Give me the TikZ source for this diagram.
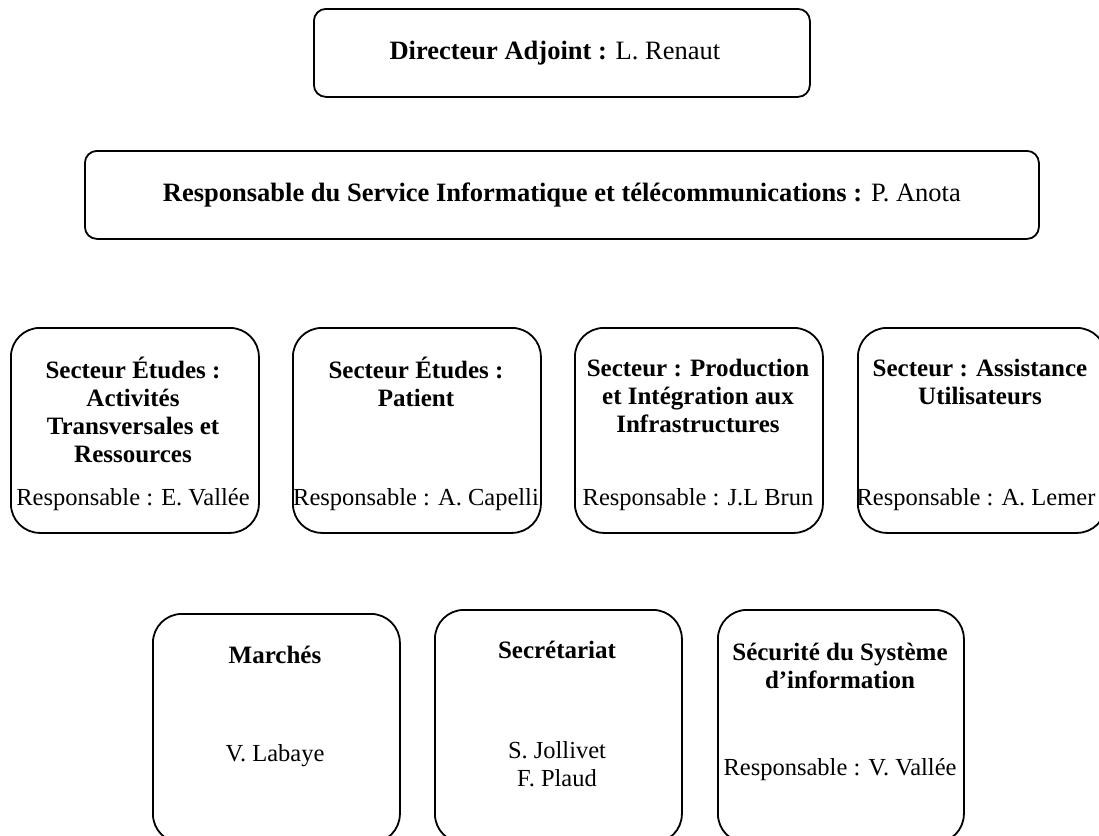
\documentclass[tikz,border=0pt]{standalone}
\usepackage{fontspec}
\setmainfont{Liberation Serif}
\begin{document}
\begin{tikzpicture}[x=1pt,y=-1pt,
  frame/.style={draw, line width=1.8pt, rounded corners=#1, inner sep=0pt,
                anchor=north west},
  toptext/.style={font=\fontsize{26.5}{30}\selectfont, inner sep=0pt},
  unittext/.style={font=\fontsize{25}{28}\selectfont, align=center, inner sep=0pt},
  nametext/.style={font=\fontsize{24.5}{28}\selectfont, align=center, inner sep=0pt}]
\useasboundingbox (0,0) rectangle (1099,835);
\clip (0,0) rectangle (1099,835);

% management boxes
\node[frame=12pt, minimum width=496pt, minimum height=88pt] (dir) at (313,8) {};
\node[toptext] (dirt) at ([xshift=-7pt]dir.center) {\textbf{Directeur Adjoint :} L. Renaut};

\node[frame=12pt, minimum width=954pt, minimum height=88pt] (resp) at (84,150) {};
\node[toptext] (respt) at (resp.center)
  {\textbf{Responsable du Service Informatique et télécommunications :} P. Anota};

% sectors
\node[frame=29pt, minimum width=248pt, minimum height=205pt] (s1) at (10,327) {};
\node[frame=29pt, minimum width=248pt, minimum height=205pt] (s2) at (292,327) {};
\node[frame=29pt, minimum width=248pt, minimum height=205pt] (s3) at (574,327) {};
\node[frame=29pt, minimum width=248pt, minimum height=205pt] (s4) at (857,327) {};

\node[unittext] (s1h) at (133,410) {\textbf{Secteur Études :}\\\textbf{Activités}\\\textbf{Transversales et}\\\textbf{Ressources}};
\node[nametext] (s1r) at (133,500) {Responsable : E. Vallée};
\node[unittext] (s2h) at (416,382) {\textbf{Secteur Études :}\\\textbf{Patient}};
\node[nametext] (s2r) at (416,500) {Responsable : A. Capelli};
\node[unittext] (s3h) at (698,396) {\textbf{Secteur : Production}\\\textbf{et Intégration aux}\\\textbf{Infrastructures}};
\node[nametext] (s3r) at (698,500) {Responsable : J.L Brun};
\node[unittext] (s4h) at (980,382) {\textbf{Secteur : Assistance}\\\textbf{Utilisateurs}};
\node[nametext] (s4r) at (976,500) {Responsable : A. Lemer};

% support units
\node[frame=29pt, minimum width=247pt, minimum height=229pt] (m) at (152,613) {};
\node[frame=29pt, minimum width=247pt, minimum height=233pt] (sec) at (434,609) {};
\node[frame=29pt, minimum width=246pt, minimum height=233pt] (ssi) at (717,609) {};

\node[unittext] (mh) at (275,655) {\textbf{Marchés}};
\node[nametext] (mn) at (275,756) {V. Labaye};
\node[unittext] (sech) at (557,650) {\textbf{Secrétariat}};
\node[nametext] (secn) at (557,764) {S. Jollivet\\F. Plaud};
\node[unittext] (ssih) at (840,666) {\textbf{Sécurité du Système}\\\textbf{d’information}};
\node[nametext] (ssir) at (840,770) {Responsable : V. Vallée};
\end{tikzpicture}
\end{document}
